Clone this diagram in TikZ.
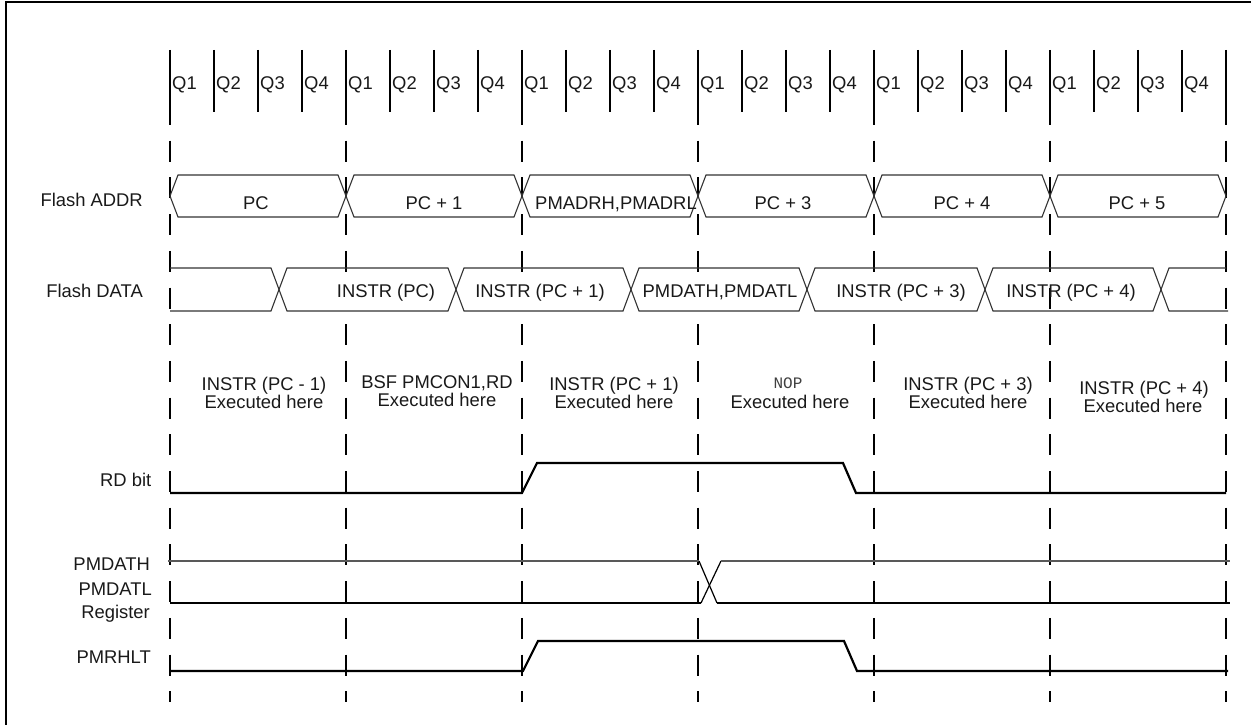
\documentclass[tikz,border=0pt]{standalone}
\usepackage{fontspec}
\setmainfont{Liberation Sans}
\newfontfamily\monofnt{Liberation Mono}
\begin{document}
\begin{tikzpicture}[x=1pt,y=-1pt,
  txt/.style={font=\fontsize{18.4}{18}\selectfont, inner sep=0pt, text=black!90},
  lbl/.style={txt, anchor=base east},
  ctr/.style={txt, anchor=base},
  mask/.style={fill=white, inner ysep=9pt},
  qline/.style={line width=2pt, black},
  bdash/.style={line width=2.2pt, black, dash pattern=on 21pt off 15.7pt, dash phase=8pt},
  bus/.style={line width=1.1pt, black!80, line join=miter},
  sig/.style={line width=2.2pt, black},
  frame/.style={line width=2.5pt, black}]
\useasboundingbox (0,0) rectangle (1251,725);

% frame (top and left edges)
\draw[frame] (6,725) -- (6,2) -- (1251,2);

% Q clock lines and labels
\foreach \k in {0,...,24} \draw[qline] ({170+44*\k},50) -- ({170+44*\k},112);
\foreach \c in {0,...,5} {
  \foreach \q in {1,...,4} {
    \node[txt, anchor=base west] (q\c\q) at ({170+176*\c+44*(\q-1)+2},90) {Q\q};
  }
}

% cycle boundaries (dashed)
\foreach \j in {0,...,6} \draw[bdash] ({170+176*\j},112) -- ({170+176*\j},702);

% Flash ADDR bus
\foreach \j in {0,...,5} {
  \draw[bus] ({170+176*\j+8},175) -- ({346+176*\j-8},175) -- ({346+176*\j},196)
    -- ({346+176*\j-8},217) -- ({170+176*\j+8},217) -- ({170+176*\j},196) -- cycle;
}
\node[lbl] (laddr) at (143,206.5) {Flash ADDR};
\node[ctr] (a1) at (256,209.5) {PC};
\node[ctr] (a2) at (434,209.5) {PC + 1};
\node[ctr] (a3) at (616,209.5) {PMADRH,PMADRL};
\node[ctr] (a4) at (783,209.5) {PC + 3};
\node[ctr] (a5) at (962,209.5) {PC + 4};
\node[ctr] (a6) at (1137,209.5) {PC + 5};

% Flash DATA bus
\draw[bus] (170,268) -- (271,268) -- (279,289.5) -- (271,311) -- (170,311);
\foreach \a/\b in {279/456,456/631,631/807,807/985,985/1161} {
  \draw[bus] ({\a+8},268) -- ({\b-8},268) -- (\b,289.5) -- ({\b-8},311)
    -- ({\a+8},311) -- (\a,289.5) -- cycle;
}
\draw[bus] (1226,268) -- (1169,268) -- (1161,289.5) -- (1169,311) -- (1228,311);
\node[lbl] (ldata) at (143,297) {Flash DATA};
\node[ctr, mask] (d1) at (386,297) {INSTR (PC)};
\node[ctr, mask] (d2) at (540,297) {INSTR (PC + 1)};
\node[ctr, mask] (d3) at (720,297.5) {PMDATH,PMDATL};
\node[ctr, mask] (d4) at (901,297) {INSTR (PC + 3)};
\node[ctr] (d5) at (1071,297) {INSTR (PC + 4)};

% executed-here row
\node[ctr] (e1a) at (264,390) {INSTR (PC - 1)};
\node[ctr] (e1b) at (264,408) {Executed here};
\node[ctr] (e2a) at (437,388.5) {BSF PMCON1,RD};
\node[ctr] (e2b) at (437,406.5) {Executed here};
\node[ctr] (e3a) at (614,390) {INSTR (PC + 1)};
\node[ctr] (e3b) at (614,408) {Executed here};
\node[ctr, font=\monofnt\fontsize{16}{16}\selectfont, text=black!75] (e4a) at (788,388) {NOP};
\node[ctr] (e4b) at (790,408) {Executed here};
\node[ctr] (e5a) at (968,390) {INSTR (PC + 3)};
\node[ctr] (e5b) at (968,408) {Executed here};
\node[ctr] (e6a) at (1144,394.5) {INSTR (PC + 4)};
\node[ctr] (e6b) at (1143,412.5) {Executed here};

% RD bit
\node[lbl] (lrd) at (151.5,486.5) {RD bit};
\draw[sig] (170,493) -- (522,493) -- (537,463) -- (843,463) -- (856,493) -- (1226,493);

% PMDATH / PMDATL register
\node[lbl] (lpa) at (150,570) {PMDATH};
\node[lbl] (lpb) at (152,595) {PMDATL};
\node[lbl] (lpc) at (150,618) {Register};
\draw[line width=1.2pt, black!65] (168,561) -- (699,561);
\draw[line width=1.2pt, black] (699,561) -- (717,603);
\draw[sig] (170,603) -- (701,603);
\draw[line width=1.2pt, black] (701,603) -- (721,561);
\draw[line width=1.8pt, black!65] (721,561) -- (1230,561);
\draw[sig] (717,603) -- (1230,603);

% PMRHLT
\node[lbl] (lhlt) at (151,663.3) {PMRHLT};
\draw[sig] (170,671) -- (523,671) -- (538,641) -- (844,641) -- (857,671) -- (1228,671);
\end{tikzpicture}
\end{document}
